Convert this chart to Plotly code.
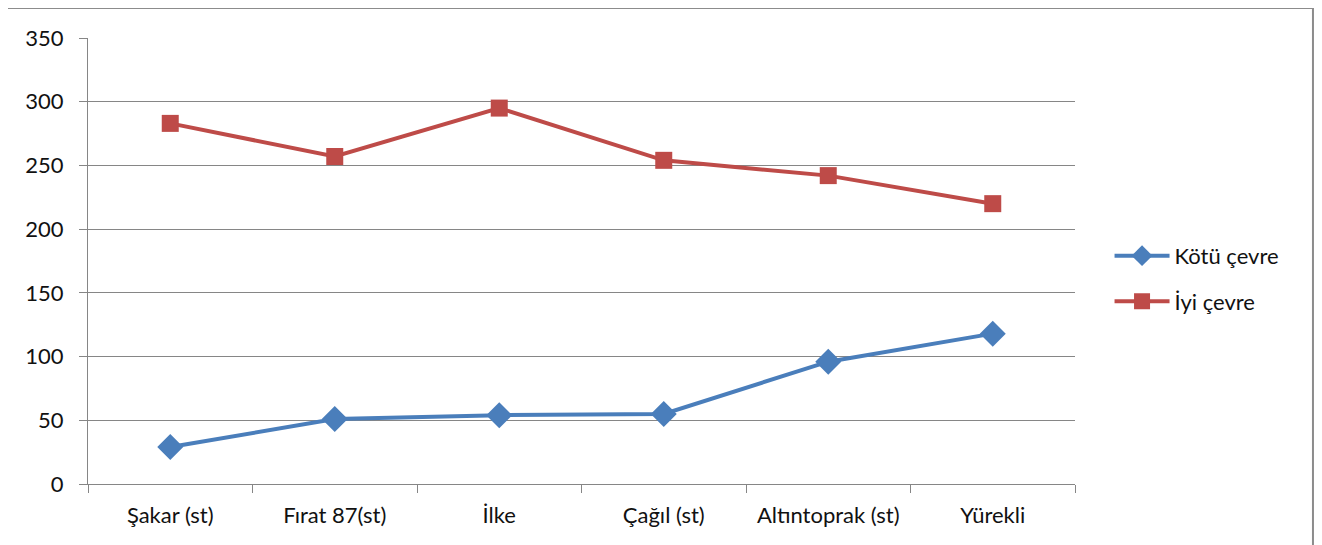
import plotly.graph_objects as go

categories = ["Şakar (st)", "Fırat 87(st)", "İlke", "Çağıl (st)", "Altıntoprak (st)", "Yürekli"]
kotu_cevre = [29, 51, 54, 55, 96, 118]
iyi_cevre = [283, 257, 295, 254, 242, 220]
y_ticks = [0, 50, 100, 150, 200, 250, 300, 350]

fig = go.Figure()
fig.add_trace(go.Scatter(
    x=categories, y=kotu_cevre, name="Kötü çevre", mode="lines+markers",
    legendgroup="a",
    line=dict(color="#4A7EBB", width=4),
    marker=dict(symbol="diamond", size=20, color="#4A7EBB"),
))
fig.add_trace(go.Scatter(
    x=categories, y=iyi_cevre, name="İyi çevre", mode="lines+markers",
    legendgroup="b",
    line=dict(color="#BE4B48", width=4),
    marker=dict(symbol="square", size=17, color="#BE4B48"),
))

axis_gray = "#868686"
fs = 22
fig.update_layout(
    width=1314, height=537,
    margin=dict(l=80, r=247, t=30, b=61),
    paper_bgcolor="white", plot_bgcolor="white",
    font=dict(family="Lato, Open Sans, sans-serif", size=fs, color="#111111"),
    showlegend=True,
    legend=dict(x=1.035, y=0.46, xanchor="left", yanchor="middle",
                font=dict(size=fs), tracegroupgap=14, itemwidth=55),
    xaxis=dict(type="category", tickson="boundaries", ticks="outside", ticklen=8,
               tickcolor=axis_gray, showline=True, linecolor=axis_gray, linewidth=1,
               showgrid=False, range=[-0.5, 5.5], tickfont=dict(size=fs),
               tickangle=0, automargin=False, ticklabelstandoff=12),
    yaxis=dict(range=[0, 350], tickvals=y_ticks, ticks="outside", ticklen=8,
               tickcolor=axis_gray, showline=True, linecolor=axis_gray, linewidth=1,
               showgrid=True, gridcolor=axis_gray, gridwidth=1, zeroline=False,
               tickfont=dict(size=fs), ticklabelstandoff=11, automargin=False),
    shapes=[dict(type="rect", xref="paper", yref="paper",
                 x0=-0.0821, x1=1.2411, y0=-0.2, y1=1.0673,
                 line=dict(color="#8C8C8C", width=2), fillcolor="rgba(0,0,0,0)", layer="below")],
)

fig.write_html("out.html")
